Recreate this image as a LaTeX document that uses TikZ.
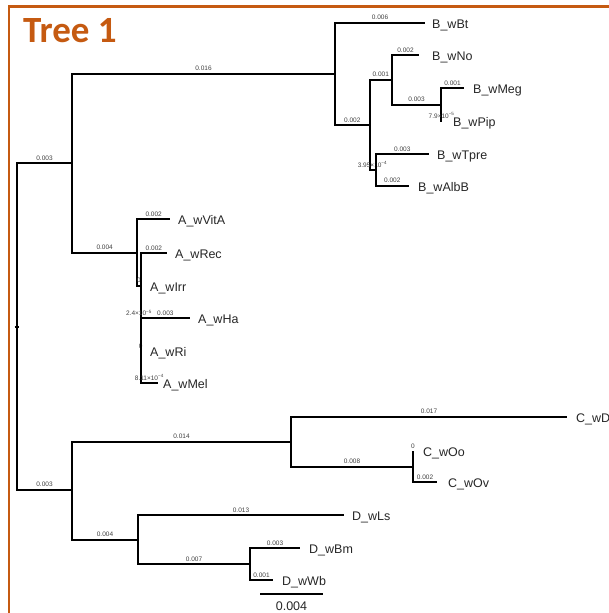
\documentclass[tikz,border=0pt]{standalone}
\usepackage{fontspec}
\setmainfont{Liberation Sans}
\newfontfamily\titlefont{Carlito}
\definecolor{frameorange}{RGB}{197,90,17}
\begin{document}
\begin{tikzpicture}[x=1pt,y=-1pt,
  branch/.style={line width=2pt, black},
  blab/.style={font=\fontsize{6.5}{7}\selectfont, text=black!75, inner sep=0pt, above=1.8pt},
  leaf/.style={font=\fontsize{12.5}{14}\selectfont, text=black!85, inner sep=0pt, anchor=base west},
]
\useasboundingbox (0,0) rectangle (609,613);
% frame
\draw[frameorange, line width=2.5pt] (9,613) -- (9,6.5) -- (609,6.5);
\node[font=\titlefont\bfseries\fontsize{37}{40}\selectfont, text=frameorange, anchor=base west, inner sep=0pt] (title) at (23,42) {Tree 1};

% coordinates
\coordinate (R) at (17,326.5);
\coordinate (rootL) at (14.5,326.5);
\coordinate (rootR) at (19,326.5);
\coordinate (nAB) at (72,163.3);
\coordinate (nCD) at (72,489.5);
\coordinate (nB) at (335,73.8);
\coordinate (nA) at (137.3,252.5);
\coordinate (tBt) at (425,22.7);
\coordinate (nB2) at (369.5,125);
\coordinate (nB3) at (392,79.5);
\coordinate (tNo) at (419,55);
\coordinate (nB5) at (441,104.5);
\coordinate (tMeg) at (464,88);
\coordinate (tPip) at (442.2,121);
\coordinate (nB4) at (375.5,170);
\coordinate (tTpre) at (429,154);
\coordinate (tAlbB) at (409,185.5);
\coordinate (tVitA) at (170,219);
\coordinate (nAb) at (140.7,285.5);
\coordinate (tRec) at (167,253);
\coordinate (tHa) at (190,318);
\coordinate (tRi) at (140.7,351);
\coordinate (tMel) at (158,383);
\coordinate (nC) at (291,441.5);
\coordinate (tD) at (567,416.7);
\coordinate (nC2) at (413,466.5);
\coordinate (tOo) at (413,451);
\coordinate (tOv) at (437,482);
\coordinate (nD) at (138,539.5);
\coordinate (tLs) at (344,515);
\coordinate (nD2) at (250,564);
\coordinate (tBm) at (300,548);
\coordinate (tWb) at (273,580);

% branches
\draw[branch] (rootL) -- (rootR);
\draw[branch] (R) |- node[blab,pos=0.75]{0.003} (nAB);
\draw[branch] (R) |- node[blab,pos=0.75]{0.003} (nCD);
\draw[branch] (nAB) |- node[blab,pos=0.75]{0.016} (nB);
\draw[branch] (nAB) |- node[blab,pos=0.75]{0.004} (nA);
\draw[branch] (nB) |- node[blab,pos=0.75]{0.006} (tBt);
\draw[branch] (nB) |- node[blab,pos=0.75]{0.002} (nB2);
\draw[branch] (nB2) |- node[blab,pos=0.75]{0.001} (nB3);
\draw[branch] (nB2) |- node[blab,pos=0.75]{3.95×10\textsuperscript{−4}} (nB4);
\draw[branch] (nB3) |- node[blab,pos=0.75]{0.002} (tNo);
\draw[branch] (nB3) |- node[blab,pos=0.75]{0.003} (nB5);
\draw[branch] (nB5) |- node[blab,pos=0.75]{0.001} (tMeg);
\draw[branch] (nB5) |- node[blab,pos=0.75]{7.9×10\textsuperscript{−5}} (tPip);
\draw[branch] (nB4) |- node[blab,pos=0.75]{0.003} (tTpre);
\draw[branch] (nB4) |- node[blab,pos=0.75]{0.002} (tAlbB);
\draw[branch] (nA) |- node[blab,pos=0.75]{0.002} (tVitA);
\draw[branch] (nA) |- node[blab,pos=0.75]{0} (nAb);
\draw[branch] (nAb) |- node[blab,pos=0.75]{0.002} (tRec);
\draw[branch] (nAb) |- node[blab,pos=0.75]{0.003} (tHa);
\draw[branch] (nAb) |- node[blab,pos=0.75]{0} (tRi);
\draw[branch] (nAb) |- node[blab,pos=0.75]{8.11×10\textsuperscript{−4}} (tMel);
\node[blab] (haLab) at (139,318) {2.4×10\textsuperscript{−5}};
\draw[branch] (nCD) |- node[blab,pos=0.75]{0.014} (nC);
\draw[branch] (nCD) |- node[blab,pos=0.75]{0.004} (nD);
\draw[branch] (nC) |- node[blab,pos=0.75]{0.017} (tD);
\draw[branch] (nC) |- node[blab,pos=0.75]{0.008} (nC2);
\draw[branch] (nC2) |- node[blab,pos=0.75]{0} (tOo);
\draw[branch] (nC2) |- node[blab,pos=0.75]{0.002} (tOv);
\draw[branch] (nD) |- node[blab,pos=0.75]{0.013} (tLs);
\draw[branch] (nD) |- node[blab,pos=0.75]{0.007} (nD2);
\draw[branch] (nD2) |- node[blab,pos=0.75]{0.003} (tBm);
\draw[branch] (nD2) |- node[blab,pos=0.75]{0.001} (tWb);

% leaf labels
\node[leaf] (lBt) at (432,28.2) {B\_wBt};
\node[leaf] (lNo) at (432,60.5) {B\_wNo};
\node[leaf] (lMeg) at (473,93.5) {B\_wMeg};
\node[leaf] (lPip) at (453,126.5) {B\_wPip};
\node[leaf] (lTpre) at (437,159.5) {B\_wTpre};
\node[leaf] (lAlbB) at (418,191) {B\_wAlbB};
\node[leaf] (lVitA) at (178,224.5) {A\_wVitA};
\node[leaf] (lRec) at (175,258.5) {A\_wRec};
\node[leaf] (lIrr) at (150,291) {A\_wIrr};
\node[leaf] (lHa) at (198,323.5) {A\_wHa};
\node[leaf] (lRi) at (150,356.5) {A\_wRi};
\node[leaf] (lMel) at (163,388.5) {A\_wMel};
\node[leaf] (lD) at (576,422.2) {C\_wD};
\node[leaf] (lOo) at (423,456.5) {C\_wOo};
\node[leaf] (lOv) at (448,487.5) {C\_wOv};
\node[leaf] (lLs) at (352,520.5) {D\_wLs};
\node[leaf] (lBm) at (309,553.5) {D\_wBm};
\node[leaf] (lWb) at (282,585.5) {D\_wWb};

% scale bar
\coordinate (sbL) at (260,594);
\coordinate (sbR) at (323,594);
\draw[line width=1.8pt] (sbL) -- (sbR);
\node[font=\fontsize{12.5}{14}\selectfont, text=black!85, anchor=base, inner sep=0pt] (sbLab) at (291.5,610.5) {0.004};
\end{tikzpicture}
\end{document}
